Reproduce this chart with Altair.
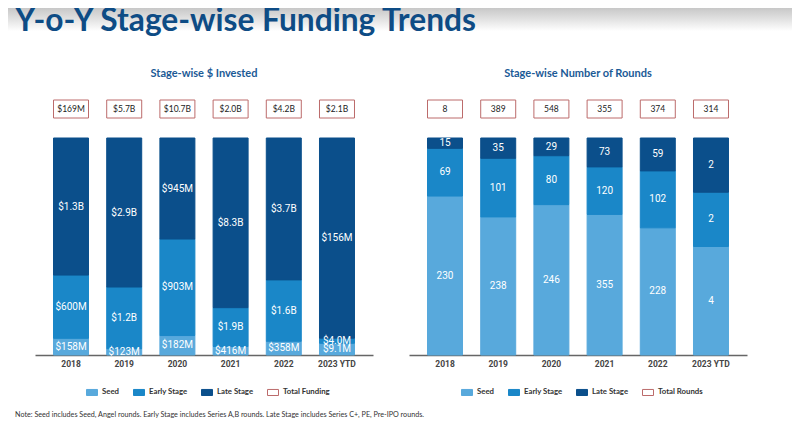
import altair as alt
import pandas as pd

# ---------------- data ----------------
years = ["2018", "2019", "2020", "2021", "2022", "2023 YTD"]
stages = ["Seed", "Early Stage", "Late Stage"]

seed_invested_m = [158, 123, 182, 416, 358, 9.1]
early_invested_m = [600, 1200, 903, 1900, 1600, 4.0]
late_invested_m = [1300, 2900, 945, 8300, 3700, 156]
seed_invested_lbl = ["$158M", "$123M", "$182M", "$416M", "$358M", "$9.1M"]
early_invested_lbl = ["$600M", "$1.2B", "$903M", "$1.9B", "$1.6B", "$4.0M"]
late_invested_lbl = ["$1.3B", "$2.9B", "$945M", "$8.3B", "$3.7B", "$156M"]
total_funding_lbl = ["$169M", "$5.7B", "$10.7B", "$2.0B", "$4.2B", "$2.1B"]

seed_rounds = [230, 238, 246, 355, 228, 4]
early_rounds = [69, 101, 80, 120, 102, 2]
late_rounds = [15, 35, 29, 73, 59, 2]
total_rounds_lbl = ["8", "389", "548", "355", "374", "314"]

main_title = "Y-o-Y Stage-wise Funding Trends"
note_text = ("Note: Seed includes Seed, Angel rounds. Early Stage includes Series A,B rounds. "
             "Late Stage includes Series C+, PE, Pre-IPO rounds.")

# ---------------- style ----------------
colors = ["#58A9DC", "#1A87C8", "#0B4F8B"]
box_color = "#BC6B6B"
title_blue = "#0E4C85"
hum = "Lato, Liberation Sans, sans-serif"
W = 338
BAR_H = 217
BOX_H = 18
HEADER_W = 784
HEADER_H = 25


def long_df(vals, lbls):
    rows = []
    for i, y in enumerate(years):
        for k, s in enumerate(stages):
            rows.append({"year": y, "stage": s, "ord": k,
                         "value": vals[k][i], "label": lbls[k][i]})
    return pd.DataFrame(rows)


def panel(df, totals, title, total_name, legend_x, left_gap):
    width = W + left_gap
    xscale = alt.Scale(domain=years, range=[left_gap, width],
                       paddingInner=0.342, paddingOuter=0.348)
    x_noaxis = alt.X("year:N", scale=xscale, axis=None)

    box_df = pd.DataFrame({"year": years, "total": totals})
    boxes = alt.Chart(box_df).mark_rect(fill="white", stroke=box_color, strokeWidth=1).encode(x=x_noaxis)
    box_text = alt.Chart(box_df).mark_text(font=hum, fontSize=8.5, color="#222").encode(
        x=x_noaxis, text="total:N")
    box_row = (boxes + box_text).properties(width=width, height=BOX_H)

    legend_domain = stages + [total_name]
    leg = alt.Legend(title=None, orient="none", direction="horizontal",
                     legendX=legend_x, legendY=BOX_H + 18 + BAR_H + 33,
                     symbolType="M-1,-0.55H1V0.55H-1Z", symbolSize=121,
                     symbolStrokeWidth=1, labelFont=hum, labelFontSize=7.8,
                     labelFontWeight="bold", labelColor="#333",
                     columnPadding=11, labelOffset=4, padding=0)
    fill = alt.Fill("stage:N", scale=alt.Scale(domain=legend_domain, range=colors + ["white"]), legend=leg)
    stroke = alt.Stroke("stage:N", scale=alt.Scale(domain=legend_domain, range=colors + [box_color]), legend=leg)

    base = alt.Chart(df).transform_stack(
        stack="value", groupby=["year"], as_=["v0", "v1"],
        sort=[alt.SortField("ord", order="ascending")], offset="normalize"
    ).transform_calculate(mid="(datum.v0 + datum.v1) / 2")
    yscale = alt.Scale(domain=[0, 1], nice=False)

    xaxis = alt.Axis(title=None, labelAngle=0, labelFont="Roboto", labelFontSize=8.5,
                     labelFontWeight="bold", labelColor="#444", domain=True, domainColor="#666",
                     domainWidth=1.3, ticks=False, labelPadding=4, grid=False)
    bars = base.mark_bar(strokeWidth=1).encode(
        x=alt.X("year:N", scale=xscale, axis=xaxis),
        y=alt.Y("v0:Q", scale=yscale, axis=None),
        y2="v1:Q",
        fill=fill,
        stroke=stroke,
    )
    labels = base.mark_text(color="white", font="Roboto", fontSize=10).encode(
        x=alt.X("year:N", scale=xscale, axis=xaxis),
        y=alt.Y("mid:Q", scale=yscale, axis=None),
        text="label:N",
    )
    bar_layer = (bars + labels).properties(width=width, height=BAR_H)

    return alt.vconcat(
        box_row, bar_layer, spacing=18,
        title=alt.TitleParams(title, anchor="middle", font=hum, fontSize=11,
                              fontWeight="bold", color="#1B5A96", offset=21, dx=left_gap / 2),
    )


invested_df = long_df([seed_invested_m, early_invested_m, late_invested_m],
                      [seed_invested_lbl, early_invested_lbl, late_invested_lbl])
rounds_df = long_df([seed_rounds, early_rounds, late_rounds],
                    [[str(v) for v in seed_rounds], [str(v) for v in early_rounds],
                     [str(v) for v in late_rounds]])

left = panel(invested_df, total_funding_lbl, "Stage-wise $ Invested", "Total Funding", 78, 27)
right = panel(rounds_df, total_rounds_lbl, "Stage-wise Number of Rounds", "Total Rounds", 52, 0)

inner = alt.hconcat(
    left, right, spacing=36,
    title=alt.TitleParams(note_text, orient="bottom", anchor="start", font=hum,
                          fontSize=7.2, fontWeight="normal", color="#333", offset=13, dx=7),
).resolve_scale(fill="independent", stroke="independent")

# header band: slide-title area with its grey fade and the main title
header_bg = alt.Chart(pd.DataFrame({"k": [0]})).mark_rect(
    color=alt.Gradient(
        gradient="linear", x1=0, x2=0, y1=0, y2=1,
        stops=[alt.GradientStop(color="#c3c3c3", offset=0),
               alt.GradientStop(color="#e0e0e0", offset=0.5),
               alt.GradientStop(color="#ffffff", offset=1)],
    )
).encode(opacity=alt.value(1))
header_title = alt.Chart(pd.DataFrame({"title": [main_title]})).mark_text(
    align="left", baseline="top", font=hum, fontSize=31.7, fontWeight="bold",
    color=title_blue,
).encode(x=alt.value(7), y=alt.value(0), text="title:N")
header = (header_bg + header_title).properties(width=HEADER_W, height=HEADER_H)

chart = alt.vconcat(header, inner, spacing=29).properties(
    padding={"left": 0, "top": -2, "right": 0, "bottom": 0},
    background="white",
).configure_view(stroke=None)

chart.save("out.html", embed_options={"renderer": "svg", "actions": False})
